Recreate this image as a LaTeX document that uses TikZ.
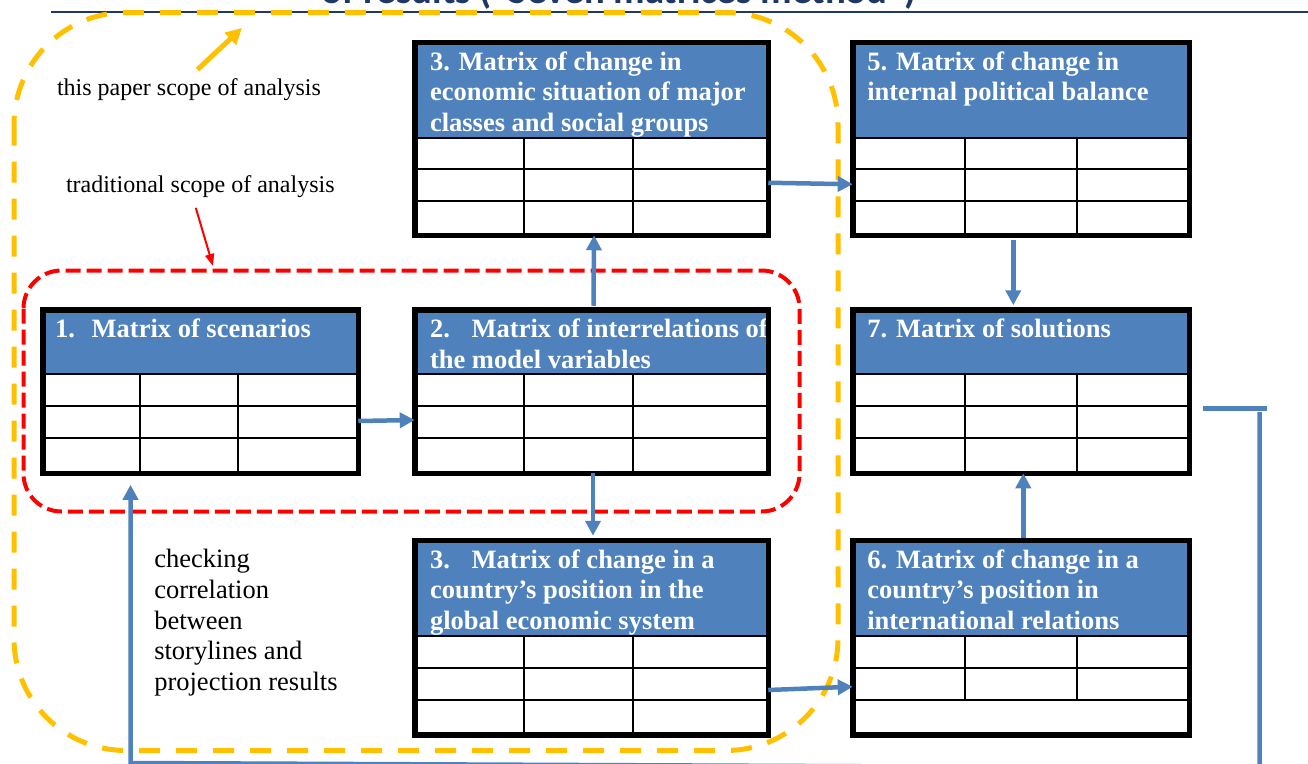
\documentclass[tikz,border=0pt]{standalone}
\usepackage{fontspec}
\setmainfont{Liberation Serif}
\newfontfamily\titlefont{Carlito}
\usetikzlibrary{arrows.meta}

\definecolor{hdrblue}{HTML}{4F81BD}
\definecolor{scopeyellow}{HTML}{FFC000}
\definecolor{titlenavy}{HTML}{1F3864}

\begin{document}
\begin{tikzpicture}[x=1pt, y=-1pt]

\tikzstyle{every node}=[inner sep=0pt, outer sep=0pt]
\tikzstyle{mtx} = [rectangle, draw, line width=5.5pt]
\tikzstyle{hdr} = [anchor=north west, align=left, text=white, font=\fontsize{26.5}{30.5}\selectfont\bfseries]
\tikzstyle{cell} = [line width=2pt]
\tikzstyle{flow} = [draw=hdrblue, line width=4.5pt, -{Triangle[length=15pt, width=15pt]}]
\tikzstyle{lbl} = [anchor=base west, font=\fontsize{24}{28}\selectfont]

\useasboundingbox (0,0) rectangle (1308,763);

% Title, cut by the top edge
\node[anchor=base west, text=titlenavy, font=\titlefont\fontsize{38.8}{40}\selectfont\bfseries] (title) at (321.5,3.8) {of results (“Seven matrices method”)};
\draw[titlenavy, line width=2pt] (51,12) -- (1308,12);

% Scopes
\draw[scopeyellow, line width=5pt, dash pattern=on 21pt off 16pt, rounded corners=112pt] (14,12.5) rectangle (838,750.5);
\draw[red, line width=4pt, dash pattern=on 15pt off 6pt, rounded corners=38pt] (23.5,270.5) rectangle (799.5,511.5);

% Headers
\foreach \xa/\ya/\xb/\hy in {40/307/361/374, 412/307/771/374, 412/39.5/771/137.5, 412/537.5/771/636, 850/39.5/1192/137.5, 850/307/1192/374, 850/537.5/1192/636}
  \fill[hdrblue] (\xa,\ya) rectangle (\xb,\hy);

\node[hdr] (m1-h) at (55,317.5) {\rule{0pt}{20pt}\makebox[36.7pt][l]{1.}Matrix of scenarios};
\node[hdr] (m2-h) at (430,317.5) {\rule{0pt}{20pt}\makebox[41.7pt][l]{2.}Matrix of interrelations of\\the model variables};
\node[hdr] (m3a-h) at (430,50) {\rule{0pt}{20pt}3. Matrix of change in\\economic situation of major\\classes and social groups};
\node[hdr] (m3b-h) at (430,548) {\rule{0pt}{20pt}\makebox[41.7pt][l]{3.}Matrix of change in a\\country’s position in the\\global economic system};
\node[hdr] (m5-h) at (867.3,50) {\rule{0pt}{20pt}5. Matrix of change in\\internal political balance};
\node[hdr] (m7-h) at (867.3,317.5) {\rule{0pt}{20pt}7. Matrix of solutions};
\node[hdr] (m6-h) at (867.3,548) {\rule{0pt}{20pt}6. Matrix of change in a\\country’s position in\\international relations};

% Matrices: name / box / header bottom / columns
\foreach \n/\xa/\ya/\xb/\yb/\hy/\ca/\cb/\ce in {m1/40/307/361/476/374/139.5/238/476, m2/412/307/771/476/374/523.5/633/476, m3a/412/39.5/771/238/137.5/523.5/633/238, m3b/412/537.5/771/737.5/636/523.5/633/737.5, m5/850/39.5/1192/238/137.5/964.5/1077/238, m7/850/307/1192/476/374/965/1077/476, m6/850/537.5/1192/737.5/636/965/1077/700}{
  \pgfmathsetmacro{\ra}{\hy+(\yb-5.5-\hy)/3}
  \pgfmathsetmacro{\rb}{\hy+2*(\yb-5.5-\hy)/3}
  \fill[white] (\xb-5.5,\ya) rectangle (\xb+8,\hy);
  \fill[white] (\xa,\hy) rectangle (\xb,\yb);
  \draw[cell] (\xa,\hy) -- (\xb,\hy) (\xa,\ra) -- (\xb,\ra) (\xa,\rb) -- (\xb,\rb);
  \draw[cell] (\ca,\hy) -- (\ca,\ce) (\cb,\hy) -- (\cb,\ce);
  \node[mtx, minimum width=\xb-\xa-5.5, minimum height=\yb-\ya-5.5] (\n) at ({(\xa+\xb)/2},{(\ya+\yb)/2}) {};
}

% Labels
\node[lbl] (paper) at (57,95) {this paper scope of analysis};
\node[lbl] (trad) at (66,192.7) {traditional scope of analysis};
\node[anchor=north west, align=left, font=\fontsize{26.5}{30.7}\selectfont] (check) at (154.3,547.7) {\rule{0pt}{20pt}checking\\correlation\\between\\storylines and\\projection results};
\coordinate (paperend) at (242,28);
\coordinate (tradend) at (213,266);
\coordinate (fbl) at (1203,408);
\coordinate (fbr) at (1267,408);
\coordinate (fbtop) at (1259.5,412);

% Lines
\draw[scopeyellow, line width=5pt, -{Triangle[length=16pt, width=16pt]}] ([xshift=8.5pt, yshift=8.5pt]paper.north) -- (paperend);
\draw[red, line width=2pt, -{Triangle[length=12pt, width=9pt]}] ([xshift=-4.5pt, yshift=-10pt]trad.south) -- (tradend);
\draw[flow] ([yshift=-29.5pt]m1.east) -- ([yshift=-28.5pt]m2.west);
\draw[flow] ([xshift=2pt, yshift=4pt]m2.north) -- ([xshift=2.5pt]m3a.south);
\draw[flow] ([xshift=1.5pt]m2.south) -- ([xshift=1.5pt, yshift=4.5pt]m3b.north);
\draw[flow] ([yshift=-44pt]m3a.east) -- ([yshift=-45.5pt]m5.west);
\draw[flow] ([xshift=-7.7pt, yshift=-4.5pt]m5.south) -- ([xshift=-7.7pt, yshift=4.5pt]m7.north);
\draw[flow] ([xshift=2.3pt, yshift=2pt]m6.north) -- ([xshift=2.3pt]m7.south);
\draw[flow] ([yshift=-52.5pt]m3b.east) -- ([yshift=-49.2pt]m6.west);
\draw[draw=hdrblue, line width=5pt] (fbl) -- (fbr);
\draw[flow] (fbtop) -- (1259.5,768) -- (130.5,763) -- ([xshift=-70pt, yshift=-11.5pt]m1.south);

\end{tikzpicture}
\end{document}
